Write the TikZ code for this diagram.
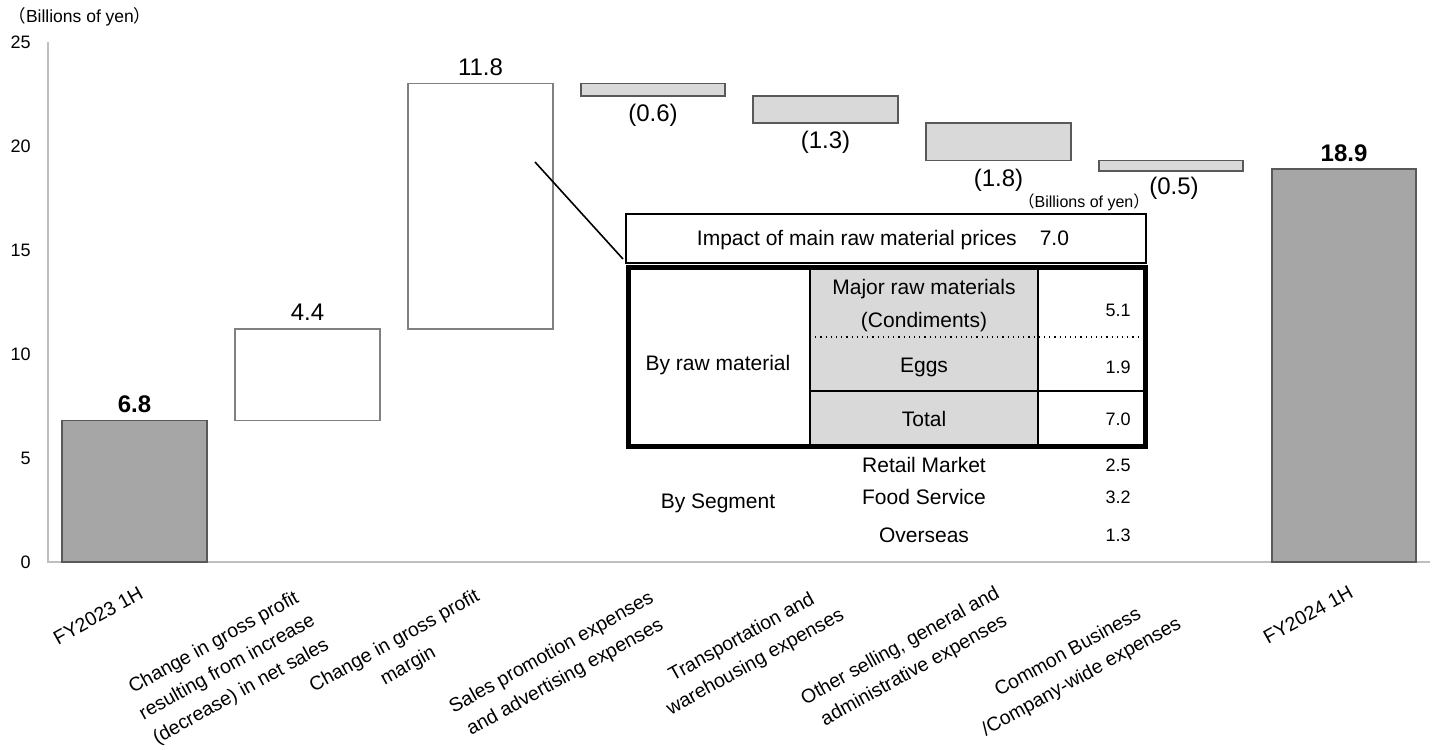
\documentclass[tikz,border=0pt]{standalone}
\usepackage{fontspec}
\setmainfont{Liberation Sans}
\newfontfamily\cjkfont{Noto Sans CJK JP}
\definecolor{bardark}{HTML}{A6A6A6}
\definecolor{barline}{HTML}{595959}
\definecolor{barlight}{HTML}{D9D9D9}
\definecolor{axisgray}{HTML}{BFBFBF}
\definecolor{wline}{HTML}{808080}
\tikzset{
  totalbar/.style={fill=bardark, draw=barline, line width=0.8pt},
  upbar/.style={fill=white, draw=wline, line width=0.8pt},
  downbar/.style={fill=barlight, draw=barline, line width=0.8pt},
  vallabel/.style={font=\fontsize{12}{14}\selectfont, inner sep=0},
  vallabelb/.style={font=\fontsize{12}{14}\selectfont\bfseries, inner sep=0},
  catlabel/.style={font=\fontsize{9.75}{14}\selectfont, rotate=29, anchor=north east, align=center, inner sep=0},
  ticklabel/.style={font=\fontsize{9}{11}\selectfont, anchor=east, inner sep=0},
  tabtext/.style={font=\fontsize{10.5}{16.5}\selectfont, inner sep=0, align=center},
  tabnum/.style={font=\fontsize{9}{11}\selectfont, inner sep=0},
  unitlabel/.style={inner sep=0},
}
\begin{document}
\begin{tikzpicture}[x=0.5pt,y=-0.5pt]
\useasboundingbox (0,0) rectangle (1438,749);
% axes
\draw[axisgray, line width=1pt] (48,42) -- (48,562) -- (1430,562);
\foreach \v/\yy in {0/562,5/458,10/354,15/250,20/146,25/42}
  \node[ticklabel] (t\v) at (31,\yy) {\v};
\node[unitlabel, font=\fontsize{8.75}{10}\selectfont] (unit) at (80,17) {{\cjkfont （}Billions of yen{\cjkfont ）}};
% bars
\draw[totalbar] (62,562) rectangle (207,420.6);
\draw[upbar] (235,420.6) rectangle (380,329.0);
\draw[upbar] (408,329.0) rectangle (553,83.6);
\draw[downbar] (581,83.6) rectangle (725,96.1);
\draw[downbar] (753,96.1) rectangle (898,123.1);
\draw[downbar] (926,123.1) rectangle (1071,160.6);
\draw[downbar] (1099,160.6) rectangle (1243,171.0);
\draw[totalbar] (1272,562) rectangle (1416,168.9);
% value labels
\node[vallabelb] (v1) at (134.5,404) {6.8};
\node[vallabel] (v2) at (307.5,312) {4.4};
\node[vallabel] (v3) at (480.5,67) {11.8};
\node[vallabel] (v4) at (653,115) {(0.6)};
\node[vallabel] (v5) at (825.5,142) {(1.3)};
\node[vallabel] (v6) at (998.5,180) {(1.8)};
\node[vallabel] (v7) at (1174,188) {(0.5)};
\node[vallabelb] (v8) at (1344,153) {18.9};
% category labels
\node[catlabel] (c1) at (138,585) {FY2023 1H};
\node[catlabel] (c2) at (296,587) {Change in gross profit\\resulting from increase\\(decrease) in net sales};
\node[catlabel] (c3) at (474,587) {Change in gross profit\\margin};
\node[catlabel] (c4) at (648,589) {Sales promotion expenses\\and advertising expenses};
\node[catlabel] (c5) at (825,581) {Transportation and\\warehousing expenses};
\node[catlabel] (c6) at (994,584) {Other selling, general and\\administrative expenses};
\node[catlabel] (c7) at (1162,590) {Common Business\\/Company-wide expenses};
\node[catlabel] (c8) at (1348,584) {FY2024 1H};
% table
\node[unitlabel, font=\fontsize{8}{10}\selectfont] (unit2) at (1084,202) {{\cjkfont （}Billions of yen{\cjkfont ）}};
\node[draw, line width=1pt, minimum width=260pt, minimum height=24.5pt, inner sep=0] (impact) at (886,238.5) {};
\node[tabtext] (impacttxt) at (883,240) {Impact of main raw material prices\hspace{1.1em}7.0};
\fill[barlight] (810,267) rectangle (1038,446);
\draw[line width=1pt] (810,267) -- (810,446);
\draw[line width=1pt] (1038,267) -- (1038,446);
\draw[line width=0.6pt, dotted] (810,337) -- (1145,337);
\draw[line width=1pt] (810,391) -- (1145,391);
\draw[line width=2.5pt] (628,267) rectangle (1145,446);
\node[tabtext] (byraw) at (718,365) {By raw material};
\node[tabtext] (major) at (924,306) {Major raw materials\\(Condiments)};
\node[tabtext] (eggs) at (924,367) {Eggs};
\node[tabtext] (total) at (924,419) {Total};
\node[tabnum] (n1) at (1118,310) {5.1};
\node[tabnum] (n2) at (1118,367) {1.9};
\node[tabnum] (n3) at (1118,419) {7.0};
\node[tabtext] (byseg) at (718,503) {By Segment};
\node[tabtext] (retail) at (924,465) {Retail Market};
\node[tabtext] (food) at (924,497) {Food Service};
\node[tabtext] (over) at (924,535) {Overseas};
\node[tabnum] (n4) at (1118,465) {2.5};
\node[tabnum] (n5) at (1118,497) {3.2};
\node[tabnum] (n6) at (1118,535) {1.3};
% leader line
\coordinate (leadS) at (535,162);
\coordinate (leadE) at (623,259);
\draw[line width=0.8pt] (leadS) -- (leadE);
\end{tikzpicture}
\end{document}
